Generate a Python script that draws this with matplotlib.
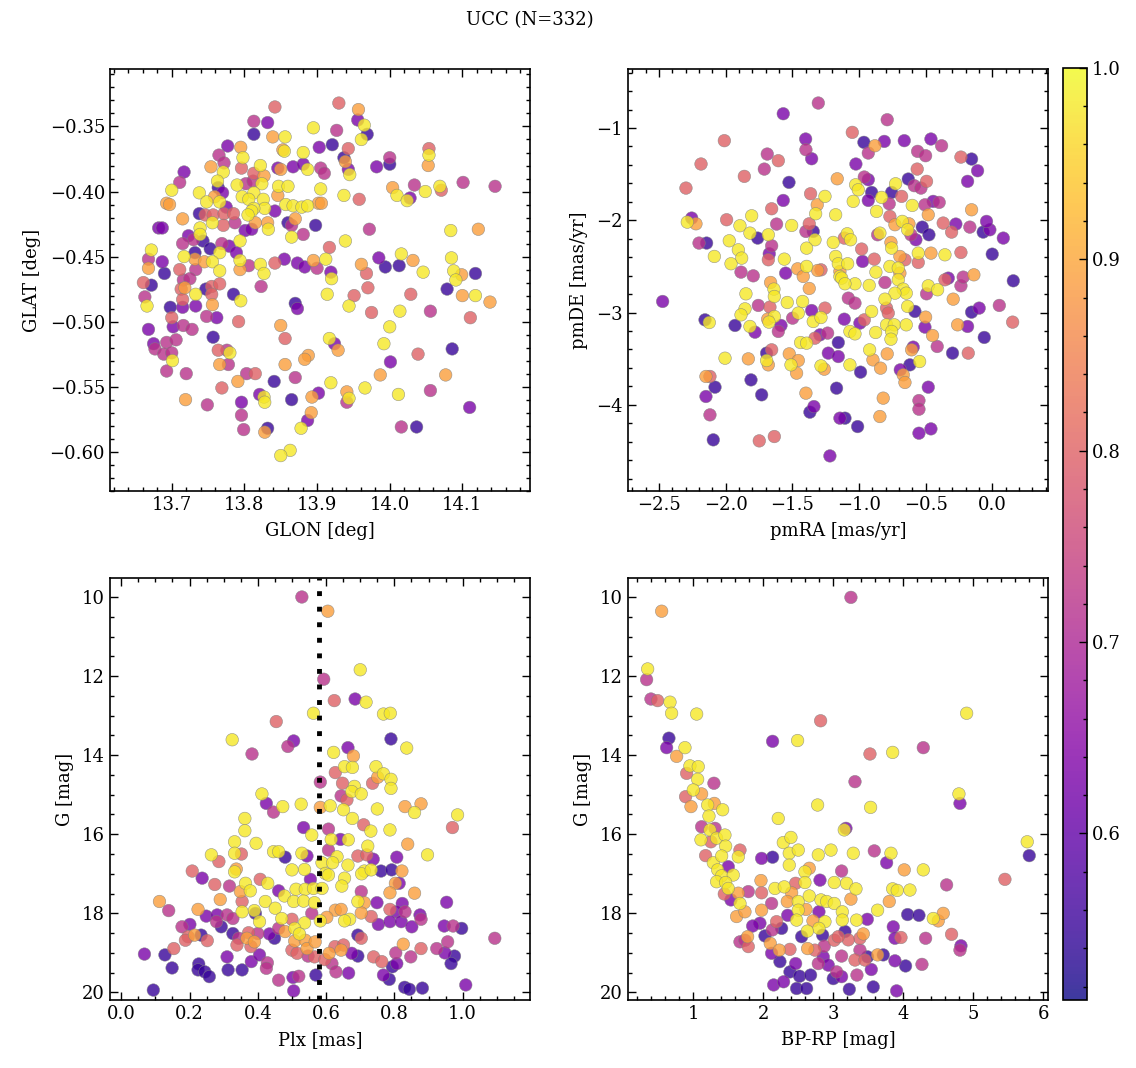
import numpy as np
import matplotlib.pyplot as plt
from matplotlib.colors import Normalize
from matplotlib.ticker import MultipleLocator, AutoMinorLocator

plt.rcParams['font.family'] = ['DejaVu Serif']
plt.rcParams['font.size'] = 13

# (x, y, probability)
glon_glat = [
    (13.842, -0.335, .80), (13.813, -0.346, .72), (13.832, -0.347, .63), (13.813, -0.356, .55), (13.839, -0.358, .89),
    (13.856, -0.358, .98), (13.895, -0.351, .98), (13.777, -0.365, .63), (13.795, -0.366, .89), (13.853, -0.368, .89),
    (13.855, -0.369, .98), (13.881, -0.370, .98), (13.903, -0.366, .63), (13.765, -0.372, .72), (13.798, -0.374, .98),
    (13.754, -0.381, .89), (13.772, -0.378, .72), (13.771, -0.385, .98), (13.796, -0.382, .80), (13.822, -0.380, .98),
    (13.813, -0.386, .80), (13.827, -0.388, .89), (13.846, -0.382, .63), (13.850, -0.383, .89), (13.867, -0.381, .63),
    (13.881, -0.379, .63), (13.887, -0.383, .98), (13.717, -0.385, .63), (13.711, -0.393, .72), (13.763, -0.392, .98),
    (13.764, -0.397, .55), (13.790, -0.395, .98), (13.802, -0.394, .72), (13.812, -0.392, .72), (13.824, -0.394, .98),
    (13.700, -0.399, .98), (13.738, -0.401, .98), (13.759, -0.404, .89), (13.770, -0.401, .63), (13.797, -0.404, .98),
    (13.813, -0.401, .98), (13.847, -0.396, .98), (13.860, -0.396, .98), (13.846, -0.403, .89), (13.693, -0.409, .89),
    (13.697, -0.410, .89), (13.748, -0.408, .98), (13.766, -0.408, .98), (13.775, -0.412, .63), (13.806, -0.406, .98),
    (13.826, -0.406, .98), (13.828, -0.413, .98), (13.813, -0.413, .98), (13.810, -0.415, .98), (13.842, -0.415, .63),
    (13.857, -0.410, .98), (13.867, -0.411, .98), (13.879, -0.412, .98), (13.887, -0.411, .98), (13.902, -0.409, .89),
    (13.738, -0.417, .55), (13.746, -0.418, .80), (13.757, -0.418, .80), (13.772, -0.417, .80), (13.785, -0.417, .80),
    (13.805, -0.418, .98), (13.815, -0.424, .89), (13.832, -0.424, .89), (13.833, -0.429, .98), (13.715, -0.421, .89),
    (13.756, -0.424, .98), (13.771, -0.426, .80), (13.787, -0.424, .72), (13.682, -0.428, .63), (13.687, -0.428, .63),
    (13.860, -0.424, .55), (13.870, -0.421, .89), (13.865, -0.426, .72), (13.898, -0.426, .55), (13.801, -0.430, .63),
    (13.810, -0.429, .63), (13.739, -0.428, .98), (13.739, -0.433, .98), (13.723, -0.434, .63), (13.730, -0.437, .72),
    (13.743, -0.438, .55), (13.794, -0.438, .98), (13.865, -0.435, .98), (13.881, -0.433, .72), (13.715, -0.440, .72),
    (13.753, -0.444, .55), (13.769, -0.440, .72), (13.779, -0.442, .63), (13.766, -0.447, .98), (13.789, -0.447, .63),
    (13.732, -0.447, .55), (13.672, -0.445, .98), (13.668, -0.452, .72), (13.687, -0.454, .63), (13.717, -0.450, .98),
    (13.732, -0.452, .89), (13.745, -0.454, .89), (13.756, -0.454, .98), (13.766, -0.461, .98), (13.794, -0.453, .98),
    (13.794, -0.460, .89), (13.806, -0.457, .72), (13.822, -0.456, .98), (13.827, -0.463, .98), (13.842, -0.455, .80),
    (13.855, -0.452, .63), (13.873, -0.455, .63), (13.883, -0.458, .63), (13.895, -0.453, .89), (13.668, -0.459, .89),
    (13.690, -0.463, .55), (13.711, -0.460, .80), (13.733, -0.460, .72), (13.661, -0.470, .80), (13.672, -0.472, .55),
    (13.716, -0.468, .72), (13.725, -0.467, .72), (13.713, -0.475, .80), (13.718, -0.474, .89), (13.747, -0.475, .55),
    (13.755, -0.473, .80), (13.766, -0.471, .80), (13.823, -0.473, .72), (13.663, -0.481, .72), (13.666, -0.488, .98),
    (13.733, -0.479, .98), (13.755, -0.479, .80), (13.715, -0.483, .80), (13.756, -0.487, .89), (13.785, -0.479, .55),
    (13.795, -0.484, .98), (13.698, -0.489, .55), (13.715, -0.489, .63), (13.733, -0.488, .63), (13.870, -0.486, .55),
    (13.873, -0.490, .63), (13.700, -0.497, .80), (13.748, -0.496, .72), (13.762, -0.497, .63), (13.792, -0.500, .80),
    (13.668, -0.506, .63), (13.702, -0.504, .63), (13.716, -0.503, .72), (13.728, -0.506, .72), (13.850, -0.503, .89),
    (13.757, -0.512, .55), (13.856, -0.513, .80), (13.675, -0.517, .63), (13.693, -0.516, .72), (13.706, -0.514, .72),
    (13.677, -0.521, .72), (13.689, -0.525, .72), (13.700, -0.524, .72), (13.764, -0.522, .80), (13.776, -0.522, .72),
    (13.780, -0.524, .98), (13.778, -0.533, .72), (13.766, -0.533, .89), (13.701, -0.530, .98), (13.888, -0.526, .89),
    (13.883, -0.529, .89), (13.693, -0.538, .72), (13.720, -0.540, .72), (13.803, -0.540, .72), (13.815, -0.540, .80),
    (13.856, -0.533, .89), (13.870, -0.543, .72), (13.791, -0.546, .89), (13.841, -0.546, .55), (13.769, -0.551, .80),
    (13.821, -0.556, .63), (13.827, -0.558, .98), (13.828, -0.562, .98), (13.719, -0.560, .89), (13.749, -0.564, .72),
    (13.796, -0.562, .63), (13.865, -0.560, .55), (13.893, -0.558, .89), (13.902, -0.555, .63), (13.796, -0.572, .72),
    (13.892, -0.570, .89), (13.887, -0.576, .63), (13.799, -0.583, .72), (13.832, -0.582, .55), (13.828, -0.585, .89),
    (13.878, -0.582, .98), (13.863, -0.599, .98), (13.850, -0.603, .98),
    (13.930, -0.332, .80), (13.957, -0.337, .89), (13.956, -0.345, .63), (13.965, -0.349, .98), (13.969, -0.356, .55),
    (13.961, -0.360, .98), (13.927, -0.353, .72), (13.921, -0.364, .55), (13.943, -0.367, .80), (13.937, -0.374, .55),
    (13.939, -0.377, .89), (13.943, -0.383, .63), (13.945, -0.387, .98), (13.905, -0.382, .72), (13.910, -0.386, .72),
    (13.982, -0.381, .63), (14.000, -0.374, .72), (14.000, -0.379, .55), (14.054, -0.367, .80), (14.054, -0.372, .98),
    (14.053, -0.380, .89), (13.905, -0.398, .98), (13.906, -0.409, .89), (13.937, -0.403, .98), (13.958, -0.406, .80),
    (14.004, -0.397, .89), (14.010, -0.403, .98), (14.028, -0.405, .63), (14.024, -0.407, .98), (14.034, -0.395, .72),
    (14.049, -0.400, .98), (14.071, -0.399, .80), (14.069, -0.396, .98), (14.101, -0.393, .72), (14.145, -0.396, .72),
    (13.972, -0.429, .72), (13.939, -0.438, .98), (14.084, -0.430, .98), (14.122, -0.429, .89), (13.917, -0.443, .80),
    (13.912, -0.452, .98), (13.900, -0.459, .72), (13.961, -0.456, .89), (13.968, -0.463, .80), (13.985, -0.451, .63),
    (13.994, -0.458, .55), (14.013, -0.457, .55), (14.016, -0.448, .98), (14.032, -0.453, .89), (14.046, -0.462, .98),
    (13.919, -0.462, .63), (13.920, -0.467, .98), (14.085, -0.451, .98), (14.088, -0.461, .98), (14.091, -0.468, .98),
    (14.099, -0.464, .89), (14.118, -0.463, .55), (14.079, -0.475, .55), (14.100, -0.480, .89), (14.118, -0.480, .98),
    (14.138, -0.485, .89), (13.914, -0.479, .98), (13.951, -0.480, .80), (13.970, -0.474, .80), (13.944, -0.488, .98),
    (13.975, -0.493, .80), (14.029, -0.479, .80), (14.014, -0.492, .98), (14.056, -0.492, .72), (14.111, -0.497, .80),
    (14.000, -0.504, .98), (13.992, -0.517, .98), (13.917, -0.513, .98), (13.924, -0.517, .63), (13.929, -0.522, .89),
    (14.001, -0.531, .63), (14.039, -0.525, .80), (14.086, -0.521, .55), (13.987, -0.541, .89), (14.077, -0.541, .89),
    (13.919, -0.547, .98), (13.941, -0.554, .89), (13.941, -0.562, .72), (13.944, -0.559, .98), (13.966, -0.551, .98),
    (14.012, -0.556, .98), (14.056, -0.553, .72), (14.110, -0.566, .63), (14.016, -0.581, .72), (14.037, -0.581, .55),
]

pmra_pmde = [
    (-1.305, -0.729, .72), (-1.568, -0.845, .63), (-2.010, -1.137, .80), (-1.400, -1.119, .63), (-1.398, -1.235, .72),
    (-1.355, -1.333, .63), (-2.185, -1.390, .80), (-1.688, -1.282, .72), (-1.605, -1.354, .80), (-1.710, -1.445, .72),
    (-1.860, -1.524, .80), (-1.525, -1.589, .55), (-2.298, -1.651, .80), (-1.163, -1.550, .89), (-1.363, -1.712, .80),
    (-1.255, -1.741, .98), (-1.313, -1.832, .89), (-1.568, -1.785, .63), (-1.655, -1.875, .80), (-1.325, -1.929, .98),
    (-1.175, -1.940, .98), (-2.255, -1.976, .63), (-2.288, -2.020, .98), (-2.223, -2.038, .89), (-1.993, -1.994, .80),
    (-1.805, -1.951, .98), (-1.893, -2.059, .98), (-1.618, -2.041, .72), (-1.505, -2.056, .98), (-1.373, -2.038, .80),
    (-1.398, -2.121, .72), (-1.343, -2.121, .55), (-2.200, -2.247, .72), (-2.143, -2.247, .55), (-1.973, -2.222, .98),
    (-1.818, -2.139, .98), (-1.760, -2.193, .55), (-1.680, -2.157, .98), (-1.655, -2.276, .72), (-1.330, -2.211, .98),
    (-1.193, -2.240, .98), (-2.085, -2.392, .98), (-1.905, -2.320, .98), (-1.880, -2.410, .98), (-1.960, -2.471, .98),
    (-1.673, -2.363, .63), (-1.680, -2.428, .80), (-1.393, -2.302, .98), (-1.560, -2.421, .98), (-1.175, -2.392, .98),
    (-1.885, -2.562, .72), (-1.793, -2.602, .72), (-1.550, -2.573, .63), (-1.460, -2.526, .89), (-1.393, -2.500, .98),
    (-1.418, -2.609, .89), (-1.310, -2.544, .89), (-1.285, -2.537, .80), (-1.155, -2.471, .98), (-1.143, -2.609, .98),
    (-1.663, -2.674, .89), (-1.638, -2.746, .98), (-1.635, -2.826, .98), (-1.373, -2.739, .89), (-1.848, -2.797, .98),
    (-1.538, -2.891, .98), (-1.423, -2.880, .98), (-2.473, -2.880, .63), (-1.755, -2.923, .72), (-1.668, -2.941, .80),
    (-1.855, -2.960, .98), (-1.885, -3.025, .98), (-1.355, -2.978, .63), (-1.255, -2.952, .80), (-1.455, -3.006, .98),
    (-1.498, -3.061, .72), (-1.685, -3.072, .89), (-1.635, -3.043, .98), (-1.675, -3.104, .98), (-1.343, -3.097, .98),
    (-1.285, -3.054, .98), (-2.155, -3.079, .55), (-2.123, -3.108, .98), (-1.930, -3.140, .55), (-1.818, -3.151, .98),
    (-1.780, -3.213, .63), (-1.585, -3.140, .63), (-1.605, -3.205, .72), (-1.293, -3.242, .63), (-1.235, -3.223, .72),
    (-1.330, -3.278, .80), (-1.438, -3.325, .98), (-1.393, -3.332, .98), (-1.155, -3.325, .55), (-2.005, -3.495, .98),
    (-1.830, -3.502, .89), (-1.693, -3.440, .55), (-1.655, -3.404, .80), (-1.693, -3.520, .98), (-1.680, -3.567, .89),
    (-1.523, -3.448, .89), (-1.455, -3.520, .89), (-1.510, -3.567, .98), (-1.468, -3.657, .89), (-1.230, -3.440, .63),
    (-1.285, -3.578, .98), (-1.260, -3.614, .89), (-1.155, -3.477, .63), (-2.148, -3.693, .89), (-2.118, -3.693, .80),
    (-2.080, -3.809, .55), (-2.148, -3.910, .63), (-1.810, -3.730, .55), (-1.730, -3.892, .55), (-1.398, -3.874, .89),
    (-1.168, -3.820, .55), (-1.338, -4.019, .63), (-1.368, -4.080, .55), (-2.118, -4.109, .72), (-2.093, -4.380, .55),
    (-1.748, -4.391, .80), (-1.635, -4.344, .80), (-1.218, -4.554, .63), (-1.143, -4.145, .63),
    (-0.788, -0.910, .72), (-1.050, -1.047, .80), (-0.963, -1.155, .55), (-0.880, -1.192, .89), (-0.810, -1.145, .63),
    (-0.930, -1.271, .72), (-0.660, -1.137, .63), (-0.460, -1.119, .63), (-0.380, -1.192, .72), (-0.560, -1.253, .72),
    (-0.500, -1.300, .72), (-0.235, -1.315, .80), (-0.155, -1.336, .55), (-0.110, -1.463, .63), (-0.185, -1.578, .63),
    (-1.023, -1.390, .63), (-0.563, -1.445, .80), (-0.960, -1.531, .72), (-0.930, -1.560, .63), (-1.025, -1.615, .98),
    (-1.005, -1.669, .98), (-0.905, -1.698, .55), (-0.830, -1.752, .98), (-0.725, -1.604, .98), (-0.630, -1.553, .55),
    (-0.585, -1.625, .72), (-0.535, -1.651, .72), (-0.493, -1.578, .80), (-0.680, -1.741, .80), (-0.755, -1.698, .55),
    (-1.043, -1.795, .98), (-0.930, -1.785, .63), (-0.868, -1.904, .98), (-0.773, -1.821, .72), (-0.600, -1.839, .98),
    (-0.505, -1.832, .72), (-0.443, -1.795, .63), (-0.398, -1.806, .72), (-0.480, -1.940, .89), (-0.525, -2.074, .55),
    (-0.475, -2.157, .55), (-0.368, -2.030, .80), (-0.305, -2.128, .80), (-0.273, -2.041, .63), (-0.155, -1.886, .89),
    (-0.168, -2.074, .72), (-0.068, -2.128, .55), (-0.018, -2.103, .63), (0.083, -2.193, .63), (-0.043, -2.012, .63),
    (0.000, -2.367, .55), (-0.675, -2.012, .98), (-0.625, -2.038, .89), (-0.768, -1.958, .80), (-0.730, -2.048, .89),
    (-0.635, -2.103, .98), (-0.610, -2.157, .72), (-0.573, -2.211, .63), (-1.088, -2.146, .98), (-1.063, -2.211, .98),
    (-1.110, -2.193, .80), (-0.980, -2.312, .80), (-0.843, -2.139, .98), (-0.860, -2.157, .72), (-0.760, -2.240, .89),
    (-0.755, -2.302, .98), (-0.693, -2.392, .89), (-0.655, -2.428, .80), (-0.768, -2.500, .98), (-0.705, -2.518, .98),
    (-0.555, -2.356, .98), (-0.460, -2.356, .89), (-0.355, -2.374, .98), (-0.235, -2.349, .80), (-0.555, -2.457, .80),
    (-0.885, -2.421, .80), (-0.973, -2.446, .63), (-1.085, -2.471, .98), (-1.143, -2.555, .89), (-1.130, -2.627, .98),
    (-1.030, -2.688, .98), (-1.105, -2.688, .98), (-0.873, -2.562, .98), (-0.805, -2.674, .72), (-0.923, -2.706, .98),
    (-0.705, -2.645, .98), (-0.693, -2.573, .89), (-0.668, -2.746, .98), (-0.645, -2.790, .98), (-0.730, -2.790, .98),
    (-0.805, -2.855, .98), (-0.635, -2.934, .98), (-0.580, -2.988, .55), (-0.480, -2.710, .98), (-0.410, -2.753, .98),
    (-0.493, -2.797, .72), (-0.355, -2.645, .80), (-0.330, -2.627, .63), (-0.235, -2.710, .72), (-0.218, -2.616, .72),
    (-0.138, -2.591, .89), (-0.293, -2.855, .89), (-0.155, -2.996, .55), (-0.098, -2.952, .63), (0.053, -2.923, .72),
    (0.158, -2.656, .55), (0.153, -3.104, .80), (-0.260, -3.133, .89), (-0.185, -3.151, .63), (-0.060, -3.270, .55),
    (-0.500, -3.050, .89), (-0.505, -3.158, .63), (-0.448, -3.249, .89), (-0.413, -3.368, .72), (-0.298, -3.440, .55),
    (-0.180, -3.440, .80), (-1.080, -2.844, .72), (-1.030, -2.898, .72), (-1.110, -3.072, .63), (-0.993, -3.115, .63),
    (-0.960, -3.079, .80), (-0.905, -2.988, .98), (-0.793, -2.952, .80), (-0.780, -3.006, .80), (-1.068, -3.205, .98),
    (-1.030, -3.231, .98), (-0.875, -3.216, .98), (-0.793, -3.133, .98), (-0.735, -3.133, .98), (-0.755, -3.205, .98),
    (-0.760, -3.289, .98), (-0.645, -3.133, .98), (-0.920, -3.404, .98), (-0.895, -3.513, .89), (-0.788, -3.448, .89),
    (-0.838, -3.603, .89), (-1.068, -3.567, .98), (-0.988, -3.646, .55), (-0.690, -3.621, .63), (-0.618, -3.567, .55),
    (-0.605, -3.404, .89), (-0.545, -3.531, .98), (-0.593, -3.375, .63), (-0.668, -3.675, .89), (-0.655, -3.758, .89),
    (-0.480, -3.809, .63), (-0.818, -3.928, .89), (-0.843, -4.127, .89), (-0.550, -3.954, .72), (-0.550, -4.048, .72),
    (-1.105, -4.145, .55), (-1.010, -4.236, .55), (-0.550, -4.308, .63), (-0.460, -4.261, .63),
]

plx_g = [
    (0.529, 10.00, .72), (0.454, 13.15, .80), (0.325, 13.61, .98), (0.505, 13.64, .63), (0.488, 13.78, .72),
    (0.383, 13.97, .72), (0.563, 12.94, .98), (0.412, 14.98, .98), (0.425, 15.22, .63), (0.446, 15.44, .72),
    (0.473, 15.30, .98), (0.527, 15.24, .98), (0.362, 15.60, .98), (0.362, 15.91, .98), (0.534, 15.83, .63),
    (0.558, 16.02, .98), (0.332, 16.19, .98), (0.395, 16.23, .98), (0.264, 16.52, .98), (0.286, 16.69, .80),
    (0.332, 16.48, .98), (0.352, 16.50, .80), (0.446, 16.44, .98), (0.461, 16.44, .98), (0.480, 16.58, .55),
    (0.529, 16.48, .98), (0.544, 16.55, .63), (0.208, 16.93, .80), (0.237, 17.11, .63), (0.332, 16.95, .98),
    (0.337, 16.88, .89), (0.274, 17.27, .80), (0.317, 17.31, .72), (0.364, 17.24, .98), (0.378, 17.43, .98),
    (0.349, 17.45, .89), (0.407, 17.14, .80), (0.429, 17.24, .98), (0.461, 17.43, .63), (0.500, 16.90, .98),
    (0.537, 16.89, .98), (0.554, 17.14, .63), (0.512, 17.39, .98), (0.539, 17.39, .98), (0.563, 17.37, .98),
    (0.478, 17.56, .98), (0.505, 17.70, .98), (0.534, 17.69, .98), (0.566, 17.73, .98), (0.112, 17.70, .89),
    (0.139, 17.93, .72), (0.225, 17.90, .89), (0.290, 17.65, .89), (0.354, 17.70, .80), (0.422, 17.70, .98),
    (0.451, 17.87, .98), (0.354, 17.96, .98), (0.390, 17.93, .98), (0.249, 18.07, .63), (0.281, 18.04, .63),
    (0.310, 18.04, .72), (0.327, 18.13, .72), (0.393, 18.00, .55), (0.405, 18.21, .98), (0.470, 18.13, .98),
    (0.500, 18.15, .80), (0.537, 18.24, .98), (0.558, 18.00, .72), (0.178, 18.34, .72), (0.201, 18.28, .63),
    (0.234, 18.55, .55), (0.196, 18.59, .80), (0.188, 18.68, .80), (0.215, 18.55, .89), (0.252, 18.69, .80),
    (0.279, 18.21, .72), (0.293, 18.34, .55), (0.327, 18.51, .55), (0.344, 18.63, .72), (0.339, 18.80, .80),
    (0.368, 18.63, .89), (0.390, 18.72, .89), (0.373, 18.49, .80), (0.400, 18.51, .72), (0.380, 18.84, .80),
    (0.434, 18.52, .63), (0.449, 18.63, .55), (0.461, 18.38, .72), (0.480, 18.46, .89), (0.508, 18.38, .98),
    (0.522, 18.52, .98), (0.508, 18.70, .89), (0.539, 18.68, .89), (0.544, 18.89, .89), (0.500, 18.93, .80),
    (0.515, 19.01, .80), (0.547, 19.08, .72), (0.566, 19.10, .80), (0.068, 19.03, .63), (0.128, 19.05, .55),
    (0.154, 18.89, .80), (0.149, 19.38, .55), (0.227, 19.28, .55), (0.225, 19.43, .55), (0.245, 19.48, .55),
    (0.258, 19.60, .55), (0.310, 19.10, .63), (0.313, 19.43, .55), (0.354, 19.43, .55), (0.381, 19.22, .63),
    (0.405, 19.05, .63), (0.428, 19.25, .72), (0.425, 19.39, .72), (0.461, 19.69, .72), (0.503, 19.62, .63),
    (0.520, 19.59, .72), (0.505, 19.96, .63), (0.570, 19.56, .55), (0.094, 19.94, .55), (0.568, 18.72, .89),
    (0.605, 10.36, .89), (0.700, 11.84, .98), (0.593, 12.08, .72), (0.624, 12.62, .80), (0.685, 12.58, .63),
    (0.717, 12.66, .98), (0.768, 12.96, .98), (0.788, 12.94, .98), (0.790, 13.59, .55), (0.836, 13.82, .98),
    (0.622, 13.93, .98), (0.664, 13.81, .63), (0.680, 14.02, .89), (0.654, 14.29, .98), (0.677, 14.31, .98),
    (0.627, 14.44, .80), (0.583, 14.68, .72), (0.648, 14.71, .80), (0.736, 14.71, .80), (0.746, 14.29, .98),
    (0.751, 14.56, .89), (0.768, 14.47, .98), (0.790, 14.61, .98), (0.790, 14.84, .98), (0.683, 14.79, .98),
    (0.675, 14.92, .98), (0.703, 14.98, .98), (0.644, 15.03, .72), (0.661, 15.13, .80), (0.651, 15.38, .98),
    (0.612, 15.28, .98), (0.583, 15.32, .89), (0.750, 15.36, .98), (0.831, 15.30, .89), (0.859, 15.45, .98),
    (0.878, 15.23, .89), (0.985, 15.51, .98), (0.970, 15.83, .80), (0.677, 15.60, .98), (0.710, 15.76, .80),
    (0.731, 15.92, .98), (0.787, 15.89, .98), (0.607, 15.87, .72), (0.615, 16.13, .98), (0.642, 16.13, .63),
    (0.665, 16.14, .98), (0.722, 16.30, .98), (0.839, 16.25, .89), (0.897, 16.52, .98), (0.607, 16.40, .72),
    (0.632, 16.57, .98), (0.588, 16.72, .98), (0.619, 16.72, .98), (0.664, 16.78, .98), (0.693, 16.55, .80),
    (0.719, 16.52, .80), (0.738, 16.63, .63), (0.712, 16.93, .98), (0.704, 17.00, .98), (0.732, 16.90, .98),
    (0.761, 16.93, .55), (0.792, 16.90, .55), (0.807, 16.58, .63), (0.822, 16.93, .89), (0.598, 16.99, .98),
    (0.607, 17.03, .98), (0.654, 17.11, .98), (0.646, 17.31, .98), (0.588, 17.37, .98), (0.814, 17.24, .63),
    (0.803, 17.24, .89), (0.787, 17.48, .89), (0.703, 17.45, .72), (0.859, 17.49, .89), (0.749, 17.73, .63),
    (0.693, 17.70, .98), (0.712, 17.73, .89), (0.823, 17.75, .63), (0.953, 17.72, .63), (0.787, 17.90, .80),
    (0.806, 17.96, .63), (0.831, 17.96, .72), (0.627, 17.92, .89), (0.644, 17.90, .89), (0.602, 18.10, .89),
    (0.583, 18.19, .98), (0.669, 18.15, .98), (0.654, 18.19, .98), (0.703, 17.99, .89), (0.732, 18.08, .80),
    (0.753, 18.28, .63), (0.787, 18.21, .63), (0.820, 18.21, .63), (0.851, 18.34, .63), (0.875, 18.04, .63),
    (0.878, 18.15, .72), (0.946, 18.32, .63), (0.972, 18.32, .72), (0.997, 18.38, .55), (1.094, 18.63, .72),
    (0.693, 18.55, .55), (0.703, 18.63, .80), (0.609, 19.01, .89), (0.626, 18.84, .80), (0.651, 18.80, .80),
    (0.644, 18.93, .89), (0.675, 19.01, .63), (0.693, 19.08, .55), (0.739, 19.10, .80), (0.763, 19.22, .80),
    (0.804, 19.00, .72), (0.807, 19.27, .63), (0.794, 19.35, .55), (0.826, 18.78, .89), (0.848, 19.10, .72),
    (0.878, 18.89, .80), (0.924, 18.89, .72), (0.956, 18.72, .72), (0.948, 19.00, .63), (0.976, 19.08, .55),
    (0.966, 19.27, .55), (0.617, 19.27, .72), (0.629, 19.48, .72), (0.666, 19.51, .63), (0.768, 19.56, .63),
    (0.785, 19.67, .55), (0.830, 19.87, .55), (0.844, 19.92, .55), (0.882, 19.89, .55), (1.009, 19.81, .63),
    (0.596, 19.17, .80),
]

bprp_g = [
    (0.548, 10.36, .89), (0.348, 11.82, .98), (0.333, 12.09, .72), (0.395, 12.58, .72), (0.490, 12.62, .80),
    (0.667, 12.66, .98), (0.690, 12.94, .98), (1.048, 12.96, .98), (2.819, 13.13, .80), (0.652, 13.57, .55),
    (0.619, 13.81, .63), (2.133, 13.65, .63), (2.490, 13.63, .98), (0.881, 13.81, .98), (0.762, 14.03, .89),
    (0.952, 14.27, .98), (1.071, 14.29, .98), (0.905, 14.46, .80), (1.062, 14.61, .98), (1.295, 14.71, .72),
    (1.000, 14.88, .98), (0.890, 15.05, .80), (0.967, 15.30, .89), (1.119, 14.98, .89), (1.205, 15.26, .98),
    (1.300, 15.22, .89), (1.419, 15.38, .98), (1.224, 15.54, .98), (1.119, 15.81, .72), (1.238, 15.89, .98),
    (1.310, 15.85, .72), (1.110, 16.14, .98), (1.252, 16.19, .80), (1.333, 16.10, .98), (1.452, 16.02, .98),
    (1.462, 16.30, .98), (1.176, 16.54, .80), (1.286, 16.72, .98), (1.405, 16.55, .98), (1.500, 16.82, .63),
    (1.348, 16.90, .98), (1.405, 17.05, .98), (1.333, 17.20, .98), (1.571, 17.03, .98), (1.462, 17.22, .98),
    (1.643, 16.57, .98), (1.667, 16.40, .80), (1.976, 16.61, .63), (2.133, 16.58, .55), (2.214, 15.60, .98),
    (2.776, 15.26, .98), (2.286, 16.21, .98), (2.395, 16.08, .98), (2.371, 16.48, .98), (2.500, 16.40, .98),
    (2.371, 16.78, .98), (2.786, 16.52, .98), (2.967, 16.40, .98), (1.500, 17.37, .98), (1.443, 17.51, .80),
    (1.538, 17.66, .63), (1.643, 17.49, .89), (1.667, 17.75, .98), (1.786, 17.45, .72), (1.619, 18.08, .89),
    (1.738, 17.96, .89), (1.967, 17.17, .89), (1.976, 17.92, .89), (1.976, 17.48, .80), (2.167, 17.37, .98),
    (2.300, 17.33, .98), (2.462, 17.24, .80), (2.595, 16.95, .98), (2.595, 17.22, .98), (2.405, 17.48, .89),
    (2.657, 16.86, .89), (2.810, 17.16, .63), (3.014, 17.22, .98), (2.343, 17.70, .89), (2.500, 17.70, .98),
    (2.657, 17.56, .98), (2.824, 17.66, .98), (2.905, 17.70, .98), (3.014, 17.75, .98), (2.119, 17.75, .72),
    (2.500, 17.92, .98), (2.610, 17.90, .89), (2.476, 18.17, .98), (2.795, 17.96, .63), (2.881, 18.21, .98),
    (2.795, 18.38, .98), (2.629, 18.45, .98), (2.710, 18.19, .89), (2.348, 18.05, .63), (2.190, 18.21, .80),
    (2.262, 18.38, .55), (1.952, 18.25, .63), (1.848, 18.32, .63), (2.129, 18.42, .72), (2.024, 18.57, .55),
    (1.667, 18.72, .72), (1.776, 18.59, .89), (1.786, 18.84, .80), (2.100, 18.76, .89), (2.229, 18.93, .89),
    (2.119, 19.01, .63), (2.381, 18.91, .80), (2.548, 18.59, .55), (2.633, 18.89, .89), (2.738, 18.93, .80),
    (2.871, 18.83, .72), (3.014, 18.68, .80), (2.848, 18.55, .55), (2.238, 19.22, .55), (2.381, 19.48, .55),
    (2.462, 19.27, .63), (2.519, 19.59, .55), (2.676, 19.56, .55), (2.148, 19.81, .63), (2.290, 19.73, .63),
    (2.476, 19.90, .55), (2.619, 19.90, .55), (2.857, 19.10, .63), (2.929, 19.31, .63), (3.048, 19.48, .72),
    (3.000, 19.65, .55), (2.786, 19.27, .72), (1.738, 18.68, .72),
    (3.252, 10.01, .72), (4.905, 12.94, .98), (3.524, 13.97, .80), (3.848, 13.93, .98), (4.286, 13.81, .72),
    (3.310, 14.67, .72), (3.533, 15.32, .98), (4.795, 14.98, .98), (4.810, 15.22, .63), (3.157, 15.89, .98),
    (3.181, 15.85, .63), (3.286, 16.48, .98), (3.586, 16.42, .72), (3.824, 16.48, .98), (3.762, 16.72, .63),
    (3.119, 16.93, .72), (3.190, 17.24, .98), (3.324, 17.38, .98), (3.252, 17.64, .89), (4.014, 16.90, .89),
    (4.286, 16.90, .98), (3.848, 17.38, .98), (3.914, 17.42, .98), (4.095, 17.41, .98), (3.800, 17.70, .89),
    (3.633, 17.92, .98), (4.619, 17.28, .72), (5.452, 17.14, .80), (5.771, 16.19, .98), (5.800, 16.54, .55),
    (4.062, 18.03, .55), (4.224, 18.05, .55), (4.429, 18.13, .98), (4.500, 18.19, .89), (4.571, 18.00, .89),
    (3.129, 17.96, .98), (3.129, 18.17, .98), (3.333, 18.17, .98), (3.486, 18.15, .63), (3.167, 18.46, .55),
    (3.429, 18.52, .89), (3.381, 18.63, .80), (3.214, 18.67, .80), (3.071, 18.59, .80), (3.857, 18.34, .63),
    (3.881, 18.63, .63), (3.967, 18.61, .80), (4.319, 18.63, .72), (4.690, 18.53, .80), (4.824, 18.82, .63),
    (4.810, 18.93, .72), (3.119, 19.08, .72), (3.310, 19.18, .80), (3.490, 19.10, .55), (3.633, 19.05, .89),
    (3.714, 19.05, .55), (3.881, 19.20, .63), (4.033, 19.33, .55), (4.267, 19.29, .72), (3.543, 19.42, .63),
    (3.338, 19.56, .72), (3.119, 19.60, .63), (3.229, 19.92, .55), (3.571, 19.86, .55), (3.905, 19.96, .63),
    (3.381, 18.93, .72), (3.452, 19.18, .80),
]

plx_mean = 0.58
prob_min, prob_max = 0.513, 1.0

norm = Normalize(vmin=prob_min, vmax=prob_max)

fig = plt.figure(figsize=(11.36, 10.68), dpi=100)
fig.suptitle('UCC (N=332)', x=0.466, y=0.981, va='center', fontsize=13)


def panel(rect, rows, xlabel, ylabel, xlim, ylim, xstep, ystep):
    ax = fig.add_axes(rect)
    x, y, p = np.array(rows).T
    order = np.argsort(p, kind='stable')
    sc = ax.scatter(x[order], y[order], c=p[order], cmap='plasma', norm=norm,
                    s=82, alpha=0.8, edgecolors='grey', linewidths=0.4)
    ax.set_xlim(*xlim)
    ax.set_ylim(*ylim)
    ax.xaxis.set_major_locator(MultipleLocator(xstep))
    ax.yaxis.set_major_locator(MultipleLocator(ystep))
    ax.xaxis.set_minor_locator(AutoMinorLocator())
    ax.yaxis.set_minor_locator(AutoMinorLocator())
    ax.tick_params(which='both', direction='in', top=True, right=True, width=1.0)
    ax.tick_params(which='major', length=6)
    ax.tick_params(which='minor', length=3)
    for s in ax.spines.values():
        s.set_linewidth(1.2)
    ax.set_xlabel(xlabel, labelpad=6)
    ax.set_ylabel(ylabel, labelpad=6)
    return ax, sc


ax1, sc = panel([0.0968, 0.5403, 0.3697, 0.3951], glon_glat, 'GLON [deg]', 'GLAT [deg]',
                (13.615, 14.193), (-0.6302, -0.3058), 0.1, 0.05)
ax2, _ = panel([0.5528, 0.5403, 0.3697, 0.3951], pmra_pmde, 'pmRA [mas/yr]', 'pmDE [mas/yr]',
               (-2.733, 0.418), (-4.934, -0.36), 0.5, 1)
ax3, _ = panel([0.0968, 0.0637, 0.3697, 0.3951], plx_g, 'Plx [mas]', 'G [mag]',
               (-0.033, 1.197), (20.19, 9.52), 0.2, 2)
ax4, _ = panel([0.5528, 0.0637, 0.3697, 0.3951], bprp_g, 'BP-RP [mag]', 'G [mag]',
               (0.067, 6.067), (20.19, 9.52), 1, 2)

ax3.axvline(plx_mean, color='k', ls=(0, (1, 2.2)), lw=3.5)

cax = fig.add_axes([0.9357, 0.0637, 0.0211, 0.8727])
cb = fig.colorbar(sc, cax=cax)
cb.set_ticks([0.6, 0.7, 0.8, 0.9, 1.0])
cb.ax.yaxis.set_minor_locator(MultipleLocator(0.02))
cb.ax.tick_params(which='both', direction='in', width=1.0)
cb.ax.tick_params(which='major', length=6)
cb.ax.tick_params(which='minor', length=3)
cb.outline.set_linewidth(1.2)

fig.savefig('out.png', dpi=100)
